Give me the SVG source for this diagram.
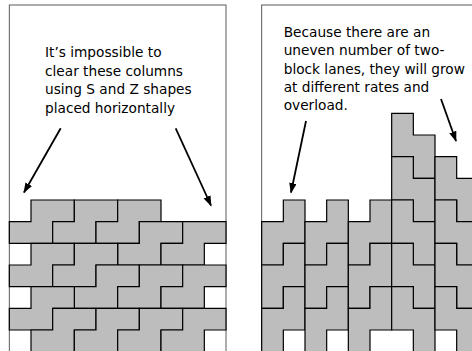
<svg xmlns="http://www.w3.org/2000/svg" xmlns:xlink="http://www.w3.org/1999/xlink" width="472" height="351" viewBox="0 0 472 351">
  <style>
    .panel { fill: #ffffff; stroke: #5a5a5a; stroke-width: 1; }
    .piece { fill: #bdbdbd; stroke: #000000; stroke-width: 1.2; stroke-linejoin: miter; }
    .note { font-family: "DejaVu Sans", "Liberation Sans", sans-serif; font-size: 13.7px; fill: #000000; }
    .arrow { stroke: #000000; stroke-width: 1.8; fill: none; marker-end: url(#head); }
  </style>
  <defs>
    <!-- cell size 21.667 -->
    <!-- horizontal S: top row shifted one cell right -->
    <path id="s-h" d="M21.667,0 h43.333 v21.667 h-21.667 v21.667 h-43.333 v-21.667 h21.667 z"/>
    <!-- vertical piece, left column higher -->
    <path id="v-right-low" d="M0,0 h21.667 v21.667 h21.667 v43.333 h-21.667 v-21.667 h-21.667 z"/>
    <!-- vertical piece, right column higher -->
    <path id="v-left-low" d="M21.667,0 h21.667 v43.333 h-21.667 v21.667 h-21.667 v-43.333 h21.667 z"/>
    <marker id="head" markerUnits="userSpaceOnUse" markerWidth="11" markerHeight="8" refX="9.5" refY="3.75" orient="auto">
      <path d="M0,0 L10.5,3.75 L0,7.5 z" fill="#000000"/>
    </marker>
  </defs>

  <!-- left panel: horizontal S pieces -->
  <g id="panel-left">
    <rect class="panel" x="9.333" y="5" width="216.667" height="360"/>
    <text class="note" x="45" y="57">It’s impossible to</text>
    <text class="note" x="45" y="75.7">clear these columns</text>
    <text class="note" x="45" y="94.4">using S and Z shapes</text>
    <text class="note" x="45" y="113">placed horizontally</text>
  </g>
  <g id="stack-left" class="piece">
    <use href="#s-h" x="9.333" y="200"/>
    <use href="#s-h" x="52.667" y="200"/>
    <use href="#s-h" x="96" y="200"/>
    <use href="#s-h" x="117.667" y="221.667"/>
    <use href="#s-h" x="161" y="221.667"/>
    <use href="#s-h" x="9.333" y="243.333"/>
    <use href="#s-h" x="52.667" y="243.333"/>
    <use href="#s-h" x="74.333" y="265"/>
    <use href="#s-h" x="117.667" y="265"/>
    <use href="#s-h" x="161" y="265"/>
    <use href="#s-h" x="9.333" y="286.667"/>
    <use href="#s-h" x="31" y="308.333"/>
    <use href="#s-h" x="74.333" y="308.333"/>
    <use href="#s-h" x="117.667" y="308.333"/>
    <use href="#s-h" x="161" y="308.333"/>
  </g>

  <!-- right panel: vertical pieces in two-block lanes -->
  <g id="panel-right">
    <rect class="panel" x="261.667" y="5" width="240" height="360"/>
    <text class="note" x="283.7" y="37">Because there are an</text>
    <text class="note" x="283.7" y="55.3">uneven number of two-</text>
    <text class="note" x="283.7" y="73.5">block lanes, they will grow</text>
    <text class="note" x="283.7" y="91.8">at different rates and</text>
    <text class="note" x="283.7" y="110">overload.</text>
  </g>
  <g id="stack-right" class="piece">
    <use href="#v-left-low" x="261.667" y="200"/>
    <use href="#v-left-low" x="261.667" y="243.333"/>
    <use href="#v-left-low" x="261.667" y="286.667"/>
    <use href="#v-left-low" x="305" y="200"/>
    <use href="#v-left-low" x="305" y="243.333"/>
    <use href="#v-left-low" x="305" y="286.667"/>
    <use href="#v-left-low" x="348.333" y="200"/>
    <use href="#v-left-low" x="348.333" y="243.333"/>
    <use href="#v-left-low" x="348.333" y="286.667"/>
    <use href="#v-right-low" x="391.667" y="113.333"/>
    <use href="#v-right-low" x="391.667" y="156.667"/>
    <use href="#v-right-low" x="391.667" y="200"/>
    <use href="#v-right-low" x="391.667" y="243.333"/>
    <use href="#v-right-low" x="391.667" y="286.667"/>
    <use href="#v-right-low" x="435" y="156.667"/>
    <use href="#v-right-low" x="435" y="200"/>
    <use href="#v-right-low" x="435" y="243.333"/>
    <use href="#v-right-low" x="435" y="286.667"/>
  </g>

  <!-- callout arrows -->
  <g id="connectors">
    <line class="arrow" x1="60.7" y1="128.3" x2="24" y2="192.5"/>
    <line class="arrow" x1="175.7" y1="128.3" x2="211" y2="205.5"/>
    <line class="arrow" x1="306" y1="121" x2="291" y2="192.5"/>
    <line class="arrow" x1="441" y1="99" x2="456" y2="141"/>
  </g>
</svg>
